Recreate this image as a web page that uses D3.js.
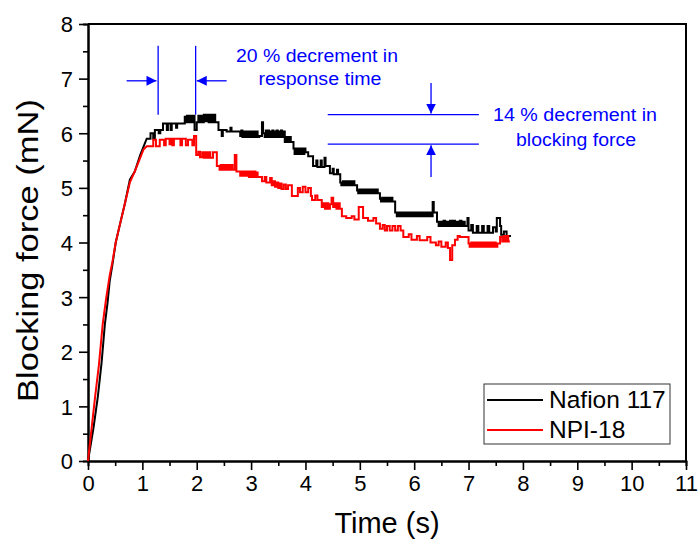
<!DOCTYPE html>
<html>
<head>
<meta charset="utf-8">
<script src="https://cdn.jsdelivr.net/npm/d3@7"></script>
<style>
  body { margin: 0; background: #fff; }
  svg text { font-family: "Liberation Sans", Arial, sans-serif; }
</style>
</head>
<body>
<div id="chart"></div>
<script>
// Nafion 117 (black): [time s, force mN]; rise drawn straight, then step record
const nafionRise = [[0, 0], [0.05, 0.3], [0.1, 0.6], [0.18, 1.17], [0.25, 1.8], [0.31, 2.5], [0.36, 2.9], [0.4, 3.3], [0.45, 3.6],
  [0.51, 4.0], [0.58, 4.3], [0.68, 4.72], [0.77, 5.15], [0.86, 5.3], [0.96, 5.6], [1.02, 5.75], [1.08, 5.9]];
const nafionSteps = [[1.08, 5.9], [1.15, 6.0], [1.2, 5.9], [1.23, 6.06], [1.3, 6.0], [1.33, 6.06], [1.38, 6.18], [1.45, 6.06], [1.47, 6.18],
  [1.52, 6.06], [1.54, 6.18], [1.62, 6.1], [1.64, 6.18],
  [1.78, 6.3], [1.8, 6.2], [1.82, 6.32], [1.84, 6.2], [1.86, 6.32], [1.88, 6.2], [1.9, 6.32], [1.92, 6.2], [1.94, 6.32], [1.96, 6.06],
  [2.0, 6.2], [2.03, 6.32], [2.06, 6.2], [2.08, 6.32], [2.11, 6.2], [2.13, 6.34], [2.16, 6.22], [2.19, 6.34], [2.22, 6.2], [2.25, 6.34],
  [2.28, 6.2], [2.31, 6.34], [2.34, 6.2],
  [2.4, 6.06], [2.46, 5.95], [2.48, 6.06], [2.55, 6.03], [2.62, 6.1], [2.64, 6.03],
  [2.8, 5.95], [2.82, 6.05], [2.84, 5.93], [2.86, 6.03], [2.88, 5.93], [2.9, 6.03], [2.92, 5.93], [2.94, 6.03], [2.96, 5.93], [2.98, 6.03],
  [3.0, 5.93], [3.02, 6.03], [3.04, 5.93], [3.06, 6.03], [3.08, 5.93], [3.1, 6.03], [3.12, 5.93], [3.15, 5.95],
  [3.2, 6.2], [3.22, 6.0], [3.25, 5.93], [3.27, 6.05], [3.29, 5.93], [3.31, 6.05], [3.33, 5.93], [3.35, 6.03], [3.37, 5.93], [3.39, 6.05],
  [3.41, 5.93], [3.43, 6.03], [3.45, 5.93], [3.47, 6.05], [3.49, 5.93], [3.51, 6.03], [3.53, 5.93], [3.55, 6.05], [3.57, 5.93], [3.59, 6.03],
  [3.62, 5.84], [3.64, 5.93], [3.67, 5.84], [3.7, 5.93], [3.73, 5.84],
  [3.78, 5.72], [3.8, 5.62], [3.82, 5.72], [3.84, 5.62], [3.86, 5.72], [3.88, 5.62], [3.9, 5.72], [3.92, 5.62], [3.94, 5.72], [3.96, 5.62],
  [3.98, 5.72], [4.0, 5.65], [4.05, 5.58],
  [4.14, 5.4], [4.2, 5.5], [4.22, 5.38], [4.28, 5.5], [4.3, 5.38], [4.35, 5.55], [4.37, 5.4],
  [4.45, 5.27], [4.5, 5.35], [4.52, 5.25], [4.58, 5.33], [4.6, 5.25],
  [4.64, 5.1], [4.66, 5.05], [4.69, 5.12], [4.72, 5.05], [4.75, 5.12], [4.78, 5.05], [4.81, 5.12], [4.84, 5.05], [4.87, 5.12], [4.9, 5.05],
  [4.95, 4.95], [4.97, 4.9], [4.99, 4.97], [5.01, 4.9], [5.03, 4.97], [5.05, 4.9], [5.07, 4.97], [5.09, 4.9], [5.11, 4.97], [5.13, 4.9],
  [5.15, 4.97], [5.17, 4.9], [5.19, 4.97], [5.21, 4.9], [5.23, 4.97], [5.25, 4.9], [5.27, 4.97], [5.29, 4.9], [5.31, 4.97], [5.33, 4.9],
  [5.37, 4.8], [5.39, 4.75], [5.41, 4.82], [5.43, 4.75], [5.45, 4.82], [5.47, 4.75], [5.49, 4.82], [5.51, 4.75], [5.53, 4.82], [5.55, 4.75],
  [5.57, 4.82], [5.6, 4.75],
  [5.65, 4.55], [5.68, 4.48], [5.7, 4.55], [5.72, 4.48], [5.74, 4.55], [5.76, 4.48], [5.78, 4.55], [5.8, 4.48], [5.82, 4.55], [5.84, 4.48],
  [5.86, 4.55], [5.88, 4.48], [5.9, 4.55], [5.92, 4.48], [5.94, 4.55], [5.96, 4.48], [5.98, 4.55], [6.0, 4.48], [6.02, 4.55], [6.04, 4.48],
  [6.06, 4.55], [6.08, 4.48], [6.1, 4.55], [6.12, 4.48], [6.14, 4.55], [6.16, 4.48], [6.18, 4.55], [6.2, 4.48], [6.23, 4.55], [6.26, 4.48],
  [6.29, 4.55], [6.31, 4.48],
  [6.34, 4.74], [6.36, 4.55], [6.42, 4.38], [6.45, 4.3], [6.48, 4.38], [6.51, 4.3], [6.54, 4.4], [6.57, 4.3], [6.6, 4.38], [6.63, 4.3],
  [6.66, 4.4], [6.69, 4.3], [6.72, 4.4], [6.75, 4.3], [6.78, 4.38], [6.81, 4.3], [6.84, 4.4], [6.87, 4.3], [6.9, 4.38], [6.93, 4.3],
  [6.98, 4.45], [7.0, 4.22], [7.05, 4.32], [7.08, 4.18], [7.15, 4.3], [7.18, 4.18], [7.25, 4.3], [7.28, 4.18], [7.35, 4.3], [7.38, 4.18],
  [7.45, 4.28], [7.5, 4.2], [7.52, 4.45], [7.58, 4.3], [7.6, 4.14], [7.65, 4.2], [7.7, 4.12]];
const nafionEnd = 7.78;

// NPI-18 (red)
const npiRise = [[0, 0], [0.05, 0.45], [0.13, 1.17], [0.2, 1.75], [0.27, 2.5], [0.33, 2.95], [0.4, 3.4], [0.45, 3.65], [0.51, 4.0],
  [0.58, 4.3], [0.68, 4.72], [0.77, 5.1], [0.86, 5.3], [0.96, 5.55], [1.02, 5.7], [1.08, 5.76]];
const npiSteps = [[1.08, 5.76], [1.2, 5.88], [1.25, 5.76], [1.32, 5.88], [1.4, 5.78], [1.43, 5.9], [1.5, 5.8], [1.52, 5.9], [1.55, 5.78],
  [1.58, 5.9], [1.7, 5.78], [1.73, 5.9], [1.8, 5.78], [1.84, 5.88], [1.92, 5.78], [1.95, 5.95],
  [1.99, 5.6], [2.03, 5.66], [2.06, 5.56], [2.1, 5.65], [2.13, 5.55], [2.16, 5.65], [2.19, 5.55], [2.22, 5.65], [2.25, 5.55], [2.3, 5.65],
  [2.37, 5.4], [2.42, 5.33], [2.44, 5.42], [2.46, 5.33], [2.48, 5.42], [2.5, 5.33], [2.52, 5.42], [2.54, 5.33], [2.56, 5.42], [2.58, 5.33],
  [2.6, 5.42], [2.62, 5.33], [2.64, 5.42], [2.66, 5.33],
  [2.7, 5.6], [2.73, 5.3], [2.8, 5.22], [2.82, 5.3], [2.84, 5.22], [2.86, 5.3], [2.88, 5.22], [2.9, 5.3], [2.92, 5.22], [2.94, 5.3],
  [2.96, 5.2], [2.98, 5.3], [3.0, 5.2], [3.02, 5.3], [3.04, 5.2], [3.06, 5.3], [3.08, 5.2], [3.1, 5.28], [3.12, 5.2],
  [3.2, 5.12], [3.25, 5.2], [3.28, 5.1], [3.35, 5.18], [3.38, 5.05], [3.41, 5.12], [3.44, 5.02], [3.47, 5.1], [3.5, 5.0], [3.53, 5.08],
  [3.56, 4.98], [3.6, 5.06], [3.64, 4.98], [3.68, 5.05],
  [3.75, 4.85], [3.86, 5.0], [3.9, 4.92], [3.95, 5.02], [4.0, 4.92], [4.05, 5.0], [4.1, 4.85], [4.12, 4.78], [4.18, 4.86], [4.22, 4.78],
  [4.3, 4.65], [4.33, 4.72], [4.36, 4.62], [4.39, 4.72], [4.42, 4.62], [4.45, 4.7], [4.48, 4.82], [4.51, 4.65], [4.54, 4.72], [4.57, 4.62],
  [4.6, 4.72], [4.63, 4.62],
  [4.67, 4.48], [4.75, 4.45], [4.85, 4.48], [4.9, 4.42], [4.98, 4.65], [5.06, 4.45], [5.15, 4.4], [5.25, 4.45], [5.3, 4.35],
  [5.37, 4.25], [5.42, 4.32], [5.46, 4.22], [5.5, 4.3], [5.55, 4.22], [5.6, 4.3], [5.65, 4.22], [5.7, 4.3], [5.75, 4.22],
  [5.8, 4.1], [5.9, 4.15], [5.95, 4.05], [6.05, 4.12], [6.1, 4.04], [6.24, 4.1], [6.3, 4.0], [6.4, 3.95], [6.45, 4.02], [6.5, 3.92],
  [6.58, 4.0], [6.62, 3.9], [6.66, 3.68], [6.7, 3.95], [6.75, 4.05], [6.8, 4.12], [6.84, 4.1],
  [7.0, 3.98], [7.02, 3.92], [7.05, 4.0], [7.08, 3.92], [7.11, 4.0], [7.14, 3.92], [7.17, 4.0], [7.2, 3.92], [7.23, 4.0], [7.26, 3.92],
  [7.29, 4.0], [7.32, 3.92], [7.35, 4.0], [7.38, 3.92], [7.41, 4.0], [7.44, 3.92], [7.47, 4.0], [7.5, 3.92], [7.53, 3.98],
  [7.58, 4.1], [7.62, 4.02], [7.65, 4.12], [7.68, 4.02], [7.71, 4.12], [7.73, 4.02]];
const npiEnd = 7.76;

const xTicks = d3.range(0, 12);
const yTicks = d3.range(0, 9);
const seriesNames = ['Nafion 117', 'NPI-18'];
const seriesColors = ['#000000', '#ff0000'];

const width = 698, height = 545;
const margin = { left: 88, right: 12, top: 24, bottom: 84 };

const svg = d3.select('#chart').append('svg')
  .attr('width', width)
  .attr('height', height);

const x = d3.scaleLinear().domain([0, 11]).range([margin.left, width - margin.right]);
const y = d3.scaleLinear().domain([0, 8]).range([height - margin.bottom, margin.top]);

// rise as straight segments, the rest held flat until the next sample
function buildPoints(rise, steps, end) {
  const pts = rise.slice();
  steps.forEach((s, i) => {
    const next = i < steps.length - 1 ? steps[i + 1][0] : end;
    pts.push([s[0], s[1]], [next, s[1]]);
  });
  return pts;
}

const series = [
  buildPoints(nafionRise, nafionSteps, nafionEnd),
  buildPoints(npiRise, npiSteps, npiEnd)
];

const line = d3.line()
  .x(d => x(d[0]))
  .y(d => y(d[1]));

// axes
const xAxis = svg.append('g')
  .attr('transform', `translate(0,${y(0)})`)
  .call(d3.axisBottom(x).tickValues(xTicks).tickSize(9).tickSizeOuter(0).tickPadding(5));
svg.append('g')
  .attr('transform', `translate(0,${y(0)})`)
  .call(d3.axisBottom(x).tickValues(d3.range(0.5, 11, 1)).tickSize(5).tickFormat(''));

const yAxis = svg.append('g')
  .attr('transform', `translate(${x(0)},0)`)
  .call(d3.axisLeft(y).tickValues(yTicks).tickSize(9).tickSizeOuter(0).tickPadding(6));
svg.append('g')
  .attr('transform', `translate(${x(0)},0)`)
  .call(d3.axisLeft(y).tickValues(d3.range(0.5, 8, 1)).tickSize(5).tickFormat(''));

svg.selectAll('.domain').attr('stroke', '#000').attr('stroke-width', 2);
svg.selectAll('.tick line').attr('stroke', '#000').attr('stroke-width', 1.6);
xAxis.selectAll('text').attr('font-size', 22).attr('fill', '#000');
yAxis.selectAll('text').attr('font-size', 22).attr('fill', '#000').attr('dy', '0.36em');

// top and right frame
svg.append('path')
  .attr('d', `M${x(0)},${y(8)}H${x(11)}V${y(0)}`)
  .attr('fill', 'none')
  .attr('stroke', '#000')
  .attr('stroke-width', 2);

svg.append('text')
  .attr('x', x(5.5))
  .attr('y', 533)
  .attr('text-anchor', 'middle')
  .attr('font-size', 29)
  .text('Time (s)');

svg.append('text')
  .attr('transform', `translate(38,${(y(0) + y(8)) / 2 + 8}) rotate(-90)`)
  .attr('text-anchor', 'middle')
  .attr('font-size', 29)
  .attr('textLength', 303)
  .attr('lengthAdjust', 'spacingAndGlyphs')
  .text('Blocking force (mN)');

// curves
svg.selectAll('.curve')
  .data(series)
  .enter()
  .append('path')
    .attr('class', 'curve')
    .attr('d', line)
    .attr('fill', 'none')
    .attr('stroke', (d, i) => seriesColors[i])
    .attr('stroke-width', 2)
    .attr('stroke-linejoin', 'miter');

// annotations
const blue = '#0000ff';
const ann = svg.append('g');
ann.append('defs').append('marker')
  .attr('id', 'arrow')
  .attr('viewBox', '0 0 10 10')
  .attr('refX', 10).attr('refY', 5)
  .attr('markerWidth', 10).attr('markerHeight', 10)
  .attr('markerUnits', 'userSpaceOnUse')
  .attr('orient', 'auto')
  .append('path')
    .attr('d', 'M0,0L10,5L0,10Z')
    .attr('fill', blue);

function annLine(t1, f1, t2, f2, arrow) {
  const l = ann.append('line')
    .attr('x1', x(t1)).attr('y1', y(f1))
    .attr('x2', x(t2)).attr('y2', y(f2))
    .attr('stroke', blue)
    .attr('stroke-width', 1.3);
  if (arrow) l.attr('marker-end', 'url(#arrow)');
}

annLine(1.29, 7.6, 1.29, 6.34);
annLine(1.98, 7.6, 1.98, 6.34);
annLine(0.71, 6.96, 1.26, 6.96, true);
annLine(2.55, 6.96, 2.0, 6.96, true);

annLine(4.41, 6.34, 7.19, 6.34);
annLine(4.41, 5.8, 7.19, 5.8);
annLine(6.31, 6.92, 6.31, 6.36, true);
annLine(6.31, 5.2, 6.31, 5.78, true);

function annText(tx, ty, str, len) {
  ann.append('text')
    .attr('x', tx).attr('y', ty)
    .attr('text-anchor', 'middle')
    .attr('font-size', 18)
    .attr('fill', blue)
    .attr('textLength', len)
    .attr('lengthAdjust', 'spacingAndGlyphs')
    .text(str);
}
annText(317, 62, '20 % decrement in', 162);
annText(320, 85, 'response time', 123);
annText(575, 121, '14 % decrement in', 164);
annText(576, 146, 'blocking force', 120);

// legend
const legend = svg.append('g');
legend.append('rect')
  .attr('x', 484).attr('y', 384)
  .attr('width', 186).attr('height', 60)
  .attr('fill', '#fff')
  .attr('stroke', '#333')
  .attr('stroke-width', 1);
seriesNames.forEach((name, i) => {
  legend.append('line')
    .attr('x1', 487).attr('x2', 543)
    .attr('y1', 400 + i * 30).attr('y2', 400 + i * 30)
    .attr('stroke', seriesColors[i])
    .attr('stroke-width', 2);
  legend.append('text')
    .attr('x', 549).attr('y', 408 + i * 30)
    .attr('font-size', 24.5)
    .text(name);
});
</script>
</body>
</html>
